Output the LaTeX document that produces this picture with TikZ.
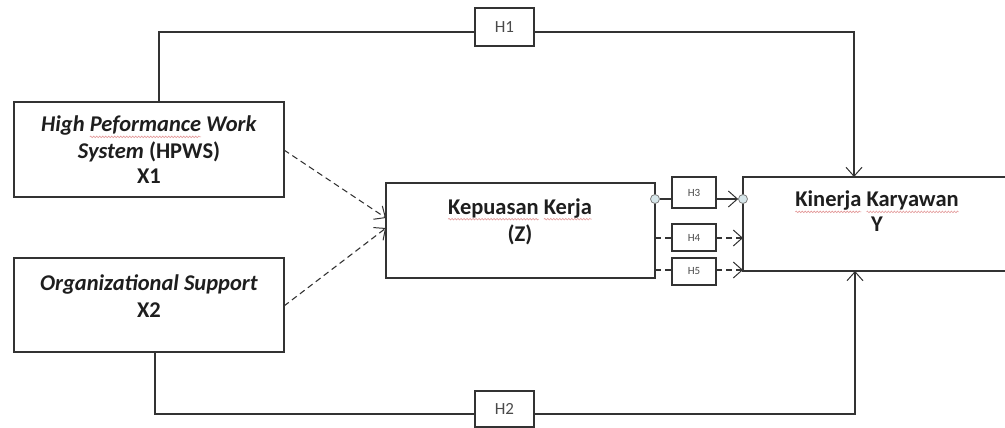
\documentclass[tikz,border=0pt]{standalone}
\usepackage{fontspec}
\setmainfont{Carlito}
\usetikzlibrary{arrows.meta,positioning,decorations.pathmorphing}
\definecolor{ln}{HTML}{333333}
\definecolor{txt}{HTML}{1E1E1E}
\definecolor{htxt}{HTML}{4A4A4A}
\definecolor{circ}{HTML}{D6E6EA}
\definecolor{sq}{HTML}{E39A9A}
\newlength\sqw
\newcommand\spellsq[1]{\setbox0\hbox{#1}\sqw=\wd0\rlap{\tikz[overlay,baseline=0pt,x=1pt,y=1pt]\draw[sq,line width=0.6pt,decorate,decoration={snake,amplitude=0.8pt,segment length=3pt}] (0pt,-5pt) -- (\sqw,-5pt);}\box0\relax}
\tikzset{
  box/.style={draw=ln,line width=1.2pt,rectangle,inner sep=0pt},
  hbox/.style={draw=ln,line width=1.1pt,rectangle,inner sep=0pt,text=htxt},
  lbl/.style={font=\fontsize{22.5}{27}\selectfont\bfseries,align=center,inner sep=0pt,text=txt},
  conn/.style={draw=ln,line width=1.1pt},
  tip/.style={-{Straight Barb[length=9pt,width=16pt,line width=1pt]}},
  dashline/.style={dash pattern=on 6pt off 4pt},
  dot/.style={circle,draw=gray,fill=circ,minimum size=9pt,inner sep=0pt,line width=0.8pt}
}
\begin{document}
\begin{tikzpicture}[x=1pt,y=-1pt]
\useasboundingbox (0,0) rectangle (1005,428);
\clip (0,0) rectangle (1005,428);
% boxes
\node[box,minimum width=270pt,minimum height=95pt] (X1) at (149,149.5) {};
\node[box,minimum width=270pt,minimum height=94pt] (X2) at (149,305) {};
\node[box,minimum width=269pt,minimum height=95pt] (Z) at (520.5,230.5) {};
\node[box,minimum width=267pt,minimum height=94pt] (Y) at (876.5,224) {};
% labels
\node[lbl] (tX1) at (149,150) {\textit{High \spellsq{Peformance} Work}\\\textit{System} (HPWS)\\[-2pt]X1};
\node[lbl] (tX2) at (149,296) {\textit{Organizational Support}\\X2};
\node[lbl] (tZ) at (520,221.5) {\spellsq{Kepuasan} \spellsq{Kerja}\\(Z)};
\node[lbl] (tY) at (877,211.5) {\spellsq{Kinerja} \spellsq{Karyawan}\\[-2pt]Y};
% H boxes
\node[hbox,minimum width=59pt,minimum height=38pt,font=\fontsize{17}{19}\selectfont] (H1) at (504.5,27) {H1};
\node[hbox,minimum width=59pt,minimum height=36pt,font=\fontsize{17}{19}\selectfont] (H2) at (504.5,409) {H2};
\node[hbox,minimum width=44pt,minimum height=31pt,font=\fontsize{11}{13}\selectfont] (H3) at (694,192.5) {H3};
\node[hbox,minimum width=44pt,minimum height=27pt,font=\fontsize{11}{13}\selectfont] (H4) at (694,237.5) {H4};
\node[hbox,minimum width=44pt,minimum height=27pt,font=\fontsize{11}{13}\selectfont] (H5) at (694,271.5) {H5};
% coordinates
\coordinate (a1) at (159,102);
\coordinate (h1w) at (475,32);
\coordinate (h1e) at (534,32);
\coordinate (y1) at (854,177);
\coordinate (a2) at (155,352);
\coordinate (h2w) at (475,414);
\coordinate (h2e) at (534,414);
\coordinate (y2) at (855,271);
\coordinate (d1s) at (284,150);
\coordinate (d1e) at (386,218);
\coordinate (d2s) at (284,306);
\coordinate (d2e) at (386,228);
\coordinate (h3w) at (672,199);
\coordinate (h3e) at (716,199);
\coordinate (z4) at (655,238);
\coordinate (h4w) at (672,238);
\coordinate (h4e) at (716,238);
\coordinate (y4) at (743,238);
\coordinate (z5) at (655,270);
\coordinate (h5w) at (672,270);
\coordinate (h5e) at (716,270);
\coordinate (y5) at (743,270);
% connectors
\draw[conn] (a1) |- (h1w);
\draw[conn,tip] (h1e) -| (y1);
\draw[conn] (a2) |- (h2w);
\draw[conn,tip] (h2e) -| (y2);
\draw[conn,dashline,tip] (d1s) -- (d1e);
\draw[conn,dashline,tip] (d2s) -- (d2e);
\node[dot] (c1) at (655,199) {};
\node[dot] (c2) at (743,199) {};
\draw[conn] (c1) -- (h3w);
\draw[conn,tip] (h3e) -- (c2);
\draw[conn,dashline] (z4) -- (h4w);
\draw[conn,dashline,tip] (h4e) -- (y4);
\draw[conn,dashline] (z5) -- (h5w);
\draw[conn,dashline,tip] (h5e) -- (y5);
\end{tikzpicture}
\end{document}
